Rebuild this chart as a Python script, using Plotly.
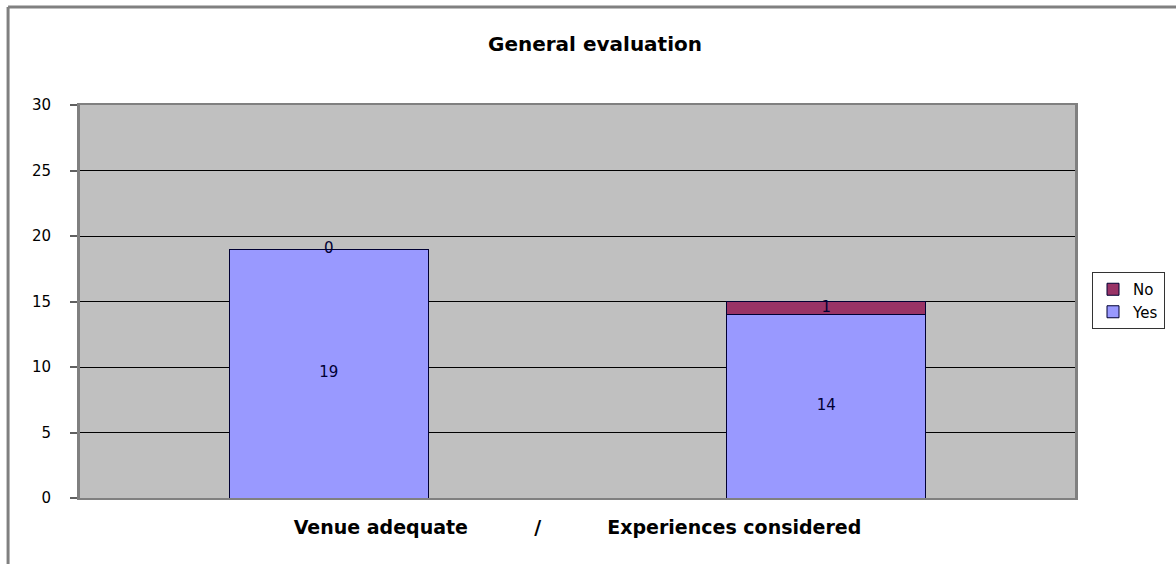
import plotly.graph_objects as go

categories = ["Venue adequate", "Experiences considered"]
yes_values = [19, 14]
no_values = [0, 1]
y_ticks = [0, 5, 10, 15, 20, 25, 30]

FONT = "DejaVu Sans"
YES_COLOR = "#9999FF"
NO_COLOR = "#993366"

fig = go.Figure()
fig.add_trace(go.Bar(x=categories, y=yes_values, name="Yes",
                     marker=dict(color=YES_COLOR, line=dict(color="#000033", width=1))))
fig.add_trace(go.Bar(x=categories, y=no_values, name="No",
                     marker=dict(color=NO_COLOR, line=dict(color="#000033", width=1))))

# value labels centered in each segment
lab_x, lab_y, lab_t = [], [], []
for c, y, n in zip(categories, yes_values, no_values):
    lab_x += [c, c]
    lab_y += [y / 2, y + n / 2]
    lab_t += [str(y), str(n)]
fig.add_trace(go.Scatter(x=lab_x, y=lab_y, text=lab_t, mode="text", showlegend=False,
                         textfont=dict(family=FONT, size=15, color="#000033"),
                         hoverinfo="skip"))

L, R, T, B = 80, 100, 105, 66
W, H = 1176, 564
pw, ph = W - L - R, H - T - B
px = lambda p: (p - L) / pw
py = lambda p: (H - B - p) / ph

sp = "&nbsp;" * 10
fig.update_layout(
    width=W, height=H,
    margin=dict(l=L, r=R, t=T, b=B),
    barmode="stack", bargap=0.6,
    paper_bgcolor="white", plot_bgcolor="#C0C0C0",
    title=dict(text="<b>General evaluation</b>", x=595 / W, xanchor="center",
               y=1 - 44 / H, yanchor="middle",
               font=dict(family=FONT, size=20, color="black")),
    font=dict(family=FONT, size=14, color="black"),
    legend=dict(x=px(1092), y=py(272), xanchor="left", yanchor="top",
                bgcolor="white", bordercolor="#333333", borderwidth=1,
                traceorder="reversed", font=dict(family=FONT, size=15),
                itemwidth=30, tracegroupgap=0),
    showlegend=True,
)
fig.update_xaxes(showticklabels=False, showgrid=False, showline=True, linecolor="#808080",
                 linewidth=2, mirror=True, ticks="",
                 title=dict(text="<b>Venue adequate" + sp + "/" + sp + "Experiences considered</b>",
                            font=dict(family=FONT, size=19), standoff=22))
fig.update_yaxes(range=[0, 30], tickvals=y_ticks, showgrid=True, gridcolor="black", gridwidth=1,
                 showline=True, linecolor="#808080", linewidth=3, mirror=True,
                 ticks="outside", ticklen=7, tickcolor="#606060", tickwidth=2,
                 ticklabelstandoff=16,
                 zeroline=False, tickfont=dict(family=FONT, size=15))

# outer chart frame (left and top edges)
fig.add_shape(type="line", xref="paper", yref="paper", x0=px(8), x1=px(8), y0=py(H + 5), y1=py(7),
              line=dict(color="#808080", width=3))
fig.add_shape(type="line", xref="paper", yref="paper", x0=px(8), x1=px(W + 5), y0=py(7), y1=py(7),
              line=dict(color="#808080", width=3))

fig.write_html("out.html", config={"displayModeBar": False},
               post_script="document.body.style.margin='0';")
